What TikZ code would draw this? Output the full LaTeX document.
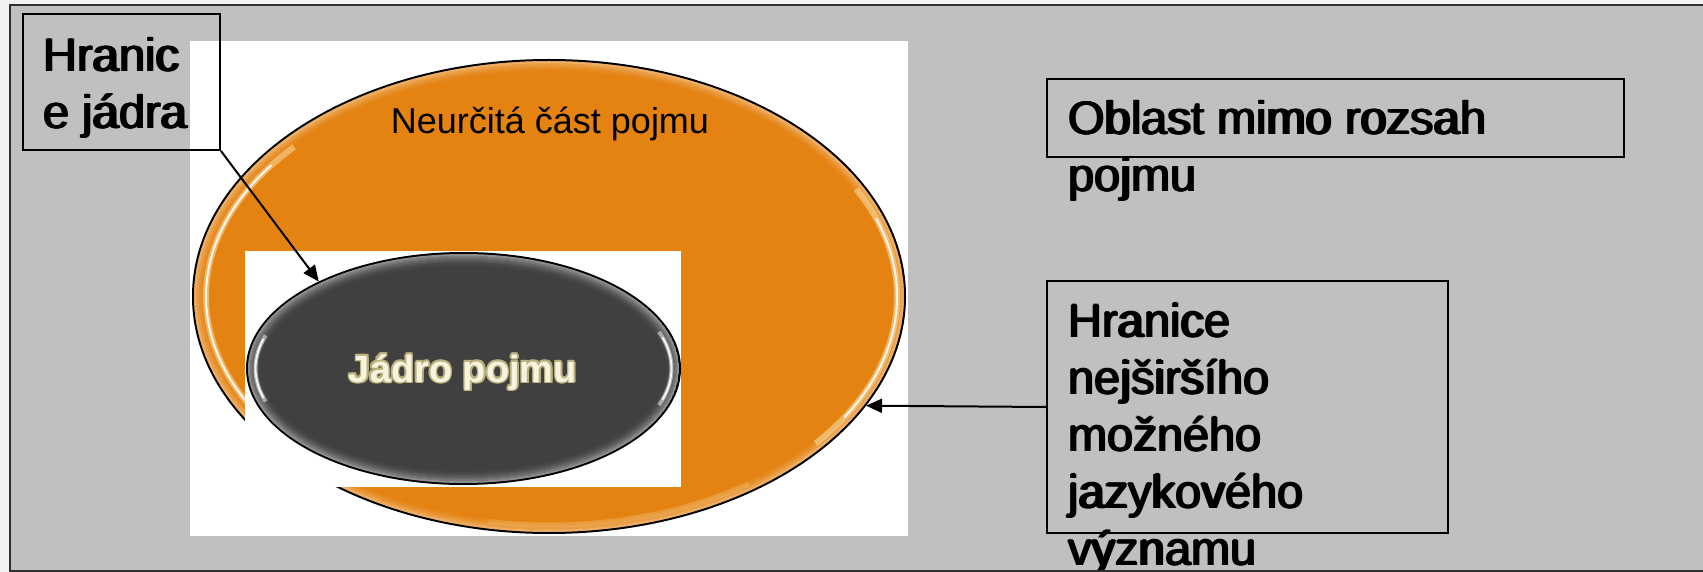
\documentclass[tikz,border=0pt]{standalone}
\usepackage{fontspec}
\setmainfont{Liberation Sans}
\usetikzlibrary{shapes.geometric,arrows.meta,calc}

\definecolor{pagebg}{HTML}{F2F2F2}
\definecolor{slidegray}{HTML}{C0C0C0}
\definecolor{framecol}{HTML}{303030}
\definecolor{vaguefill}{HTML}{E48312}
\definecolor{vaguehl}{HTML}{FFF0C0}
\definecolor{corefill}{HTML}{404040}
\definecolor{corerim}{HTML}{9A9A9A}
\definecolor{coretext}{HTML}{F6F3DE}
\definecolor{coreedge}{HTML}{BAB17E}

\tikzset{
  labelbox/.style={draw=black, line width=1pt, inner sep=0pt, fill=none},
  boxtext/.style={inner sep=0pt, anchor=base west, font=\fontsize{23.5pt}{28pt}\selectfont},
  conn/.style={draw=black, line width=1pt, -{Triangle[length=8pt,width=7pt]}},
  regionlabel/.style={inner sep=0pt, anchor=base, font=\fontsize{18pt}{22pt}\selectfont},
  corelabel/.style={inner sep=0pt, anchor=base, font=\bfseries\fontsize{19pt}{23pt}\selectfont},
}

% a callout line set a few times with a hair of offset, for a heavier stroke
\newcommand{\calloutline}[3]{%
  \node[boxtext] at ($(#2)+(1.2,0)$) {#3};
  \node[boxtext] at ($(#2)+(2.4,0)$) {#3};
  \node[boxtext] at ($(#2)+(1.2,-0.8)$) {#3};
  \node[boxtext] (#1) at (#2) {#3};
}

\begin{document}
\begin{tikzpicture}[x=0.5pt, y=-0.5pt]
\useasboundingbox (0,0) rectangle (1703,572);
\clip (0,0) rectangle (1703,572);

% page and slide frame
\fill[pagebg] (0,0) rectangle (1703,572);
\fill[slidegray] (10,5) rectangle (1720,571);
\draw[framecol, line width=1pt] (1720,5) -- (10,5) -- (10,571) -- (1720,571);

% white backing of the concept diagram
\fill[white] (190,41) rectangle (908,536);

% vague part of the concept (orange ellipse)
\node[ellipse, draw=black, line width=1pt, fill=vaguefill, inner sep=0pt,
      minimum width=356pt, minimum height=236.5pt] (vague) at (549,296.5) {};
\begin{scope}
  \clip (549,296.5) ellipse [x radius=355, y radius=235.5];
  % soft lighter rim
  \foreach \i/\op in {0/0.35,1/0.22,2/0.12,3/0.05}{
    \draw[white, opacity=\op, line width=1.2pt]
      (549,296.5) ellipse [x radius={354-2.4*\i}, y radius={234.5-2.4*\i}];
  }
  % glossy highlights on the left and right
  \draw[vaguehl, opacity=0.45, line width=3pt]
    (549,296.5) ++(148:343 and 223.5) arc[start angle=148, end angle=222, x radius=343, y radius=223.5];
  \draw[white, opacity=0.9, line width=1pt]
    (549,296.5) ++(152:343 and 223.5) arc[start angle=152, end angle=216, x radius=343, y radius=223.5];
  \draw[vaguehl, opacity=0.45, line width=3pt]
    (549,296.5) ++(-28:348 and 228.5) arc[start angle=-28, end angle=40, x radius=348, y radius=228.5];
  \draw[white, opacity=0.85, line width=1pt]
    (549,296.5) ++(-20:348 and 228.5) arc[start angle=-20, end angle=32, x radius=348, y radius=228.5];
  \draw[vaguehl, opacity=0.18, line width=2.5pt]
    (549,296.5) ++(55:348 and 228.5) arc[start angle=55, end angle=100, x radius=348, y radius=228.5];
\end{scope}

% white backing of the core
\fill[white] (245,251) rectangle (681,487);

% core of the concept (dark ellipse)
\node[ellipse, draw=black, line width=1pt, fill=corefill, inner sep=0pt,
      minimum width=216.5pt, minimum height=115.5pt] (core) at (463.5,368.5) {};
\begin{scope}
  \clip (463.5,368.5) ellipse [x radius=215.5, y radius=114.5];
  \foreach \i/\op in {0/0.85,1/0.6,2/0.4,3/0.25,4/0.12,5/0.05}{
    \draw[corerim, opacity=\op, line width=1pt]
      (463.5,368.5) ellipse [x radius={214.5-2*\i}, y radius={113.5-2*\i}];
  }
  \draw[white, opacity=0.5, line width=2pt]
    (463.5,368.5) ++(162:208 and 107) arc[start angle=162, end angle=198, x radius=208, y radius=107];
  \draw[white, opacity=0.9, line width=0.9pt]
    (463.5,368.5) ++(164:208 and 107) arc[start angle=164, end angle=196, x radius=208, y radius=107];
  \draw[white, opacity=0.5, line width=2pt]
    (463.5,368.5) ++(-20:208 and 107) arc[start angle=-20, end angle=20, x radius=208, y radius=107];
  \draw[white, opacity=0.9, line width=0.9pt]
    (463.5,368.5) ++(-17:208 and 107) arc[start angle=-17, end angle=17, x radius=208, y radius=107];
\end{scope}

% region labels
\node[regionlabel] (vaguelabel) at (550,134) {Neurčitá část pojmu};
\foreach \a in {0,45,...,315}{
  \node[corelabel, text=coreedge, shift={(\a:1.7)}] at (463,382) {Jádro pojmu};
}
\node[corelabel, text=coretext] (corelabel) at (463,382) {Jádro pojmu};

% callout boxes
\node[labelbox, minimum width=98.5pt, minimum height=68pt] (box1) at (121.5,82) {};
\calloutline{box1a}{42,72}{Hranic}
\calloutline{box1b}{42,129}{e jádra}

\node[labelbox, minimum width=288.5pt, minimum height=39pt] (box3) at (1335.5,118) {};
\calloutline{box3a}{1067,135}{Oblast mimo rozsah}
\calloutline{box3b}{1067,192}{pojmu}

\node[labelbox, minimum width=200.5pt, minimum height=126pt] (box2) at (1247.5,407) {};
\calloutline{box2a}{1067,337}{Hranice}
\calloutline{box2b}{1067,394}{nejširšího}
\calloutline{box2c}{1067,451}{možného}
\calloutline{box2d}{1067,508}{jazykového}
\calloutline{box2e}{1067,565}{významu}

% connectors
\draw[conn] (box1.south east) -- (core.149.2);
\draw[conn] (box2.west) -- (vague.-19.3);

% bottom frame line over the overflowing text
\draw[framecol, line width=1pt] (10,571) -- (1720,571);
\end{tikzpicture}
\end{document}
